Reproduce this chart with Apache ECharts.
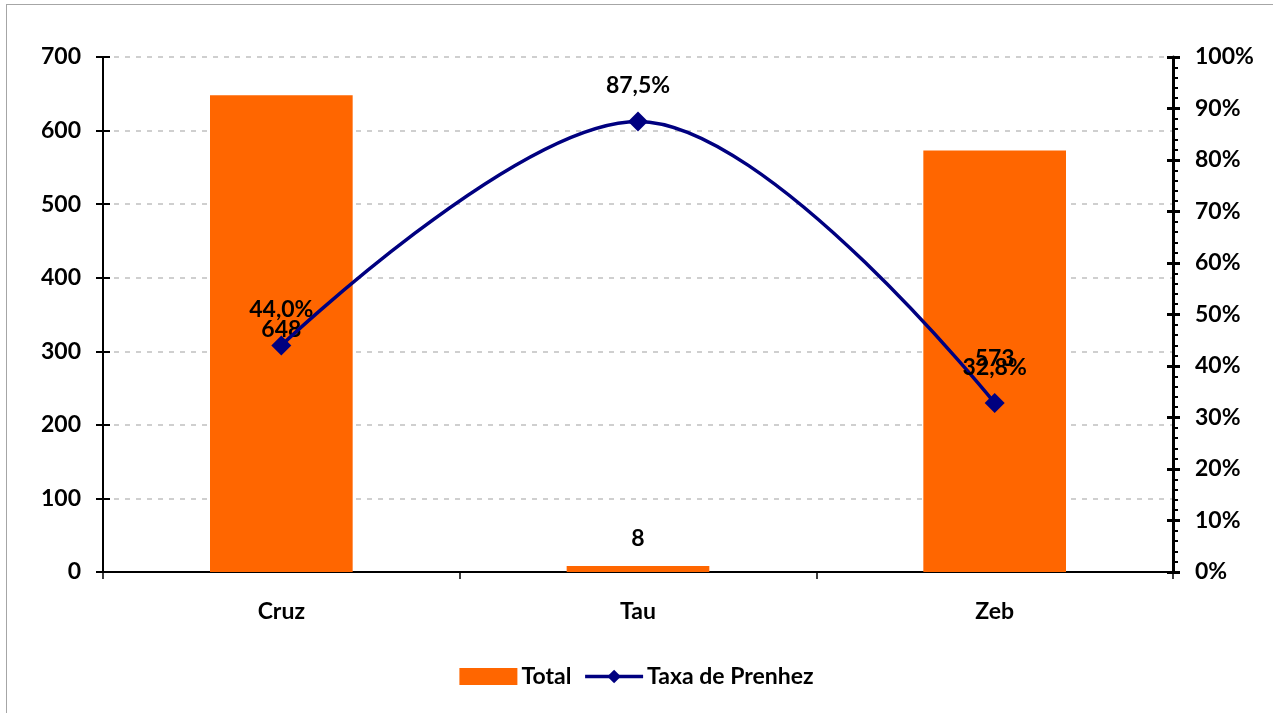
<!DOCTYPE html>
<html>
<head>
<meta charset="utf-8">
<script src="https://cdn.jsdelivr.net/npm/echarts@6/dist/echarts.min.js"></script>
<style>
    html, body { margin: 0; padding: 0; background: #fff; overflow: hidden; }
    .frame {
        position: absolute;
        left: 6px;
        top: 4px;
        width: 1300px;
        height: 740px;
        border: 1px solid #a6a6a6;
    }
    #my-charts {
        position: absolute;
        left: 0;
        top: 0;
        width: 1273px;
        height: 713px;
    }
</style>
</head>
<body>
<div class="frame"></div>
<div id="my-charts"></div>
<script>
let categories = ['Cruz', 'Tau', 'Zeb']
let totalValues = [648, 8, 573]
let taxaValues = [44.0, 87.5, 32.8]
// Excel moved the bar labels by hand, push them the same way
let totalLabelOffsets = [252, -10, 226]

let barColor = '#ff6600'
let lineColor = '#000080'
let font = 'Lato, "Liberation Sans", sans-serif'
let fontSize = 23

let chartDom = document.getElementById('my-charts')
let myChart = echarts.init(chartDom)

let labelStyle = { fontSize: fontSize, fontWeight: 'bold', color: '#000', fontFamily: font }

let option = {
  animation: false,
  textStyle: { fontFamily: font, fontWeight: 'bold', color: '#000' },
  grid: { left: 103, right: 100, top: 57, bottom: 141 },
  legend: {
    bottom: 20,
    left: 'center',
    itemGap: 12,
    itemWidth: 58,
    itemHeight: 17,
    textStyle: { fontFamily: font, fontWeight: 'bold', fontSize: fontSize, color: '#000', padding: [0, 0, 0, -1] },
    data: [
      { name: 'Total', icon: 'rect', itemStyle: { color: barColor } },
      { name: 'Taxa de Prenhez', lineStyle: { width: 3.5, color: lineColor } }
    ]
  },
  xAxis: {
    type: 'category',
    data: categories,
    boundaryGap: true,
    axisLine: { lineStyle: { color: '#000', width: 2 } },
    axisTick: { show: true, length: 7, lineStyle: { color: '#000', width: 1.5 } },
    axisLabel: Object.assign({ margin: 28 }, labelStyle),
    splitLine: { show: false }
  },
  yAxis: [
    {
      type: 'value',
      min: 0,
      max: 700,
      interval: 100,
      axisLine: { show: true, lineStyle: { color: '#000', width: 2 } },
      axisTick: { show: true, length: 7, lineStyle: { color: '#000', width: 2 } },
      axisLabel: Object.assign({ margin: 22 }, labelStyle),
      splitLine: { show: true, lineStyle: { color: '#c0c0c0', type: [5, 6], width: 1.5 } }
    },
    {
      type: 'value',
      min: 0,
      max: 100,
      interval: 10,
      position: 'right',
      axisLine: { show: true, lineStyle: { color: '#000', width: 3 } },
      axisTick: { show: true, length: 7, lineStyle: { color: '#000', width: 3 } },
      minorTick: { show: true, splitNumber: 5, length: 5, lineStyle: { color: '#000', width: 2 } },
      axisLabel: Object.assign({
        margin: 22,
        formatter: function (v) { return v + '%' }
      }, labelStyle),
      splitLine: { show: false }
    },
    // inner half of the crossing ticks on the left axis
    {
      type: 'value',
      min: 0,
      max: 700,
      interval: 100,
      position: 'left',
      axisLine: { show: false },
      axisTick: { show: true, inside: true, length: 7, lineStyle: { color: '#000', width: 2 } },
      axisLabel: { show: false },
      splitLine: { show: false }
    },
    // inner half of the crossing ticks on the right axis
    {
      type: 'value',
      min: 0,
      max: 100,
      interval: 10,
      position: 'right',
      axisLine: { show: false },
      axisTick: { show: true, inside: true, length: 6, lineStyle: { color: '#000', width: 3 } },
      axisLabel: { show: false },
      splitLine: { show: false }
    }
  ],
  series: [
    {
      name: 'Total',
      type: 'bar',
      yAxisIndex: 0,
      barWidth: '40%',
      itemStyle: { color: barColor },
      data: totalValues.map(function (v, i) {
        return {
          value: v,
          label: { offset: [0, totalLabelOffsets[i]] }
        }
      }),
      label: Object.assign({ show: true, position: 'top', distance: 6 }, labelStyle),
      z: 2
    },
    {
      name: 'Taxa de Prenhez',
      type: 'line',
      yAxisIndex: 1,
      smooth: 0.35,
      symbol: 'diamond',
      symbolSize: 20,
      lineStyle: { color: lineColor, width: 3.5 },
      itemStyle: { color: lineColor },
      data: taxaValues,
      label: Object.assign({
        show: true,
        position: 'top',
        distance: 14,
        formatter: function (p) { return p.value.toFixed(1).replace('.', ',') + '%' }
      }, labelStyle),
      z: 3
    }
  ]
}
myChart.setOption(option)
</script>
</body>
</html>
